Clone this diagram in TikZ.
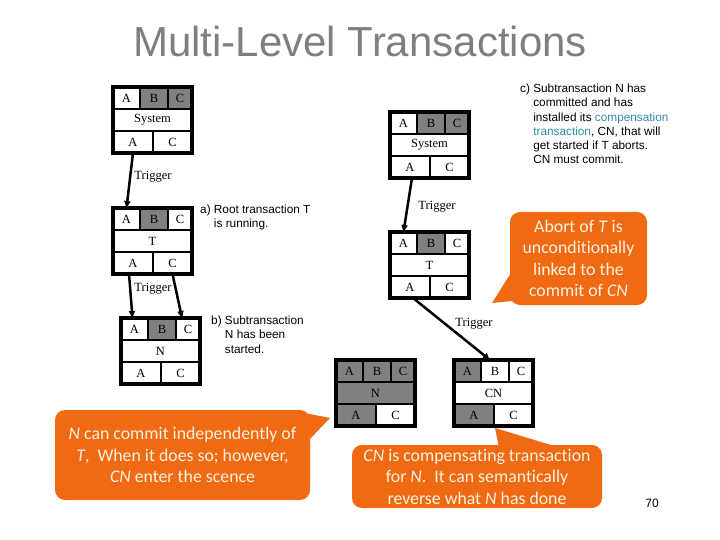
\documentclass[tikz,border=0pt]{standalone}
\usepackage{fontspec}
\usepackage{xcolor}
\usepackage{tikz}
\usetikzlibrary{arrows.meta,positioning}
\newfontfamily\boxfont{Liberation Serif}
\newfontfamily\notefont{Liberation Sans}
\newfontfamily\callfont[Ligatures=NoCommon]{Carlito}
\definecolor{txgray}{RGB}{128,128,128}
\definecolor{titlegray}{RGB}{127,127,127}
\definecolor{calloutorange}{RGB}{240,106,20}
\definecolor{callouttext}{RGB}{255,242,224}
\definecolor{linkteal}{RGB}{50,140,165}
\tikzset{
  txcell/.style={draw=black, line width=2.5pt, inner sep=0pt, outer sep=0pt,
    minimum height=22pt, font=\boxfont\fontsize{12.5}{14}\selectfont},
  txframe/.style={draw=black, line width=4pt},
  txarrow/.style={line width=2.5pt, draw=black, -{Triangle[length=7pt,width=6pt]}},
  txlabel/.style={font=\boxfont\fontsize{12.5}{14}\selectfont, inner sep=0pt},
  txnote/.style={font=\notefont\fontsize{11.8}{14.2}\selectfont, align=left,
    anchor=north west, inner sep=0pt},
  calloutbox/.style={fill=calloutorange, rounded corners=10pt, inner sep=0pt,
    align=center, text=callouttext, font=\callfont\fontsize{17.8}{21.5}\selectfont},
  calloutptr/.style={fill=calloutorange},
}
\newcommand{\txbox}[8]{%
  \node[txcell, fill=#4, minimum width=27pt, anchor=north west] (#1-a) at #2 {A};
  \node[txcell, fill=#5, minimum width=28pt, right=0pt of #1-a] (#1-b) {B};
  \node[txcell, fill=#6, minimum width=24pt, right=0pt of #1-b] (#1-c) {C};
  \node[txcell, fill=#7, minimum width=79pt, anchor=north west] (#1-m) at (#1-a.south west) {#3};
  \node[txcell, fill=#8, minimum width=40pt, anchor=north west] (#1-a2) at (#1-m.south west) {A};
  \node[txcell, fill=white, minimum width=39pt, right=0pt of #1-a2] (#1-c2) {C};
  \draw[txframe] (#1-a.north west) rectangle (#1-c2.south east);
}
\begin{document}
\begin{tikzpicture}[x=1pt,y=-1pt]
\useasboundingbox (0,0) rectangle (720,540);
\node[font=\notefont\fontsize{42}{48}\selectfont, text=titlegray] (title) at (360,41) {Multi-Level Transactions};

\txbox{sys1}{(113,87)}{System}{white}{txgray}{txgray}{white}{white}
\txbox{t1}{(113,208)}{T}{white}{txgray}{white}{white}{white}
\txbox{n1}{(121,318)}{N}{white}{txgray}{white}{white}{white}
\txbox{sys2}{(390,112)}{System}{white}{txgray}{txgray}{white}{white}
\txbox{t2}{(390,232)}{T}{white}{txgray}{white}{white}{white}
\txbox{n2}{(336,360)}{N}{txgray}{txgray}{txgray}{txgray}{txgray}
\txbox{cn}{(454,360)}{CN}{txgray}{white}{white}{white}{txgray}

\draw[txarrow] (sys1-a2.south) -- (t1-a.north);
\draw[txarrow] ([xshift=-4pt]t1-a2.south) -- ([xshift=-2pt]n1-a.north);
\draw[txarrow] (t1-c2.south) -- ([xshift=-6pt]n1-c.north);
\draw[txarrow] ([xshift=2pt]sys2-a2.south) -- (t2-a.north);
\draw[txarrow] ([xshift=3pt]t2-a2.south) -- ([xshift=-5pt]cn-b.north);

\node[txlabel] (trig1) at (153,177) {Trigger};
\node[txlabel] (trig2) at (153,289) {Trigger};
\node[txlabel] (trig3) at (437,207) {Trigger};
\node[txlabel] (trig4) at (474,324) {Trigger};

\node[txnote] (notea) at (200,205) {a) Root transaction T\\\hphantom{a)~}is running.};
\node[txnote] (noteb) at (211,316) {b) Subtransaction\\\hphantom{b)~}N has been\\\hphantom{b)~}started.};
\node[txnote] (notec) at (520,84) {c) Subtransaction N has\\\hphantom{c)~}committed and has\\\hphantom{c)~}installed its \textcolor{linkteal}{compensation}\\\hphantom{c)~}\textcolor{linkteal}{transaction}, CN, that will\\\hphantom{c)~}get started if T aborts.\\\hphantom{c)~}CN must commit.};

\node[calloutbox, minimum width=137pt, minimum height=93pt] (abort) at (578.5,258.5)
  {Abort of \textit{T} is\\unconditionally\\linked to the\\commit of \textit{CN}};
\coordinate (aborttip) at (492,303);
\fill[calloutptr] ([xshift=2pt,yshift=-13pt]abort.west) -- (aborttip) -- ([xshift=10pt,yshift=5pt]abort.south west) -- cycle;

\node[calloutbox, minimum width=255pt, minimum height=90pt] (commit) at (182.5,455)
  {\textit{N} can commit independently of\\\textit{T}, \ When it does so; however,\\\textit{CN} enter the scence};
\coordinate (committip) at (330,418);
\fill[calloutptr] ([xshift=-12pt,yshift=-2pt]commit.north east) -- (committip) -- ([xshift=-1pt,yshift=-30pt]commit.north east) -- cycle;

\node[calloutbox, minimum width=250pt, minimum height=63pt] (undo) at (477,476.5)
  {\textit{CN} is compensating transaction\\for \textit{N}. \ It can semantically\\reverse what \textit{N} has done};
\coordinate (undotip) at (495,428);
\fill[calloutptr] ([xshift=22pt,yshift=-3pt]undo.north) -- (undotip) -- ([xshift=83pt,yshift=-3pt]undo.north) -- cycle;

\node[font=\notefont\fontsize{12}{14}\selectfont, inner sep=0pt] (page) at (652,503) {70};
\end{tikzpicture}
\end{document}
